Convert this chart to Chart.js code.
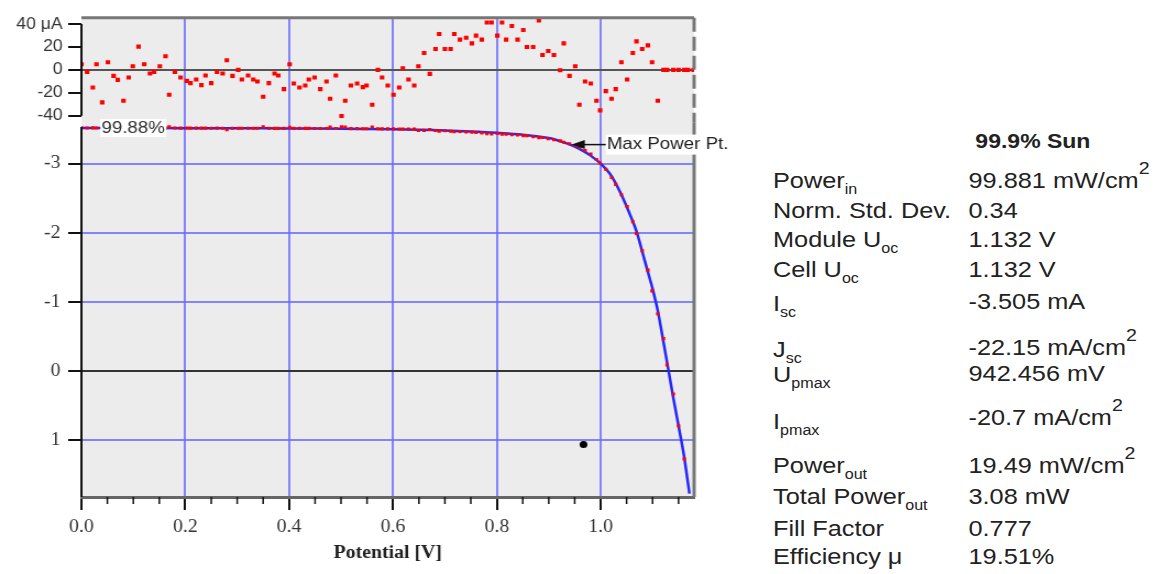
<!DOCTYPE html>
<html>
<head>
<meta charset="utf-8">
<script src="https://cdn.jsdelivr.net/npm/chart.js@4"></script>
<style>
  html, body { margin: 0; padding: 0; background: #fff; }
  body { width: 1157px; height: 574px; position: relative; overflow: hidden;
         font-family: "Liberation Sans", Arial, sans-serif; color: #222; }
  /* the reference is stretched a little horizontally, so both parts are too */
  #plot { position: absolute; left: 0; top: 0; width: 680px; height: 574px;
          transform: scaleX(1.1); transform-origin: 0 0; }
  #stats { position: absolute; left: 773px; top: 0; width: 340px; height: 574px;
           transform: scaleX(1.15); transform-origin: 0 0; font-size: 22px; }
  #stats div { position: absolute; white-space: nowrap; line-height: 22px; }
  #stats .title { font-weight: bold; font-size: 20px; transform: translateX(-50%); }
  .sub { font-size: 14px; position: relative; top: 6px; }
  .sup { font-size: 17px; position: relative; top: -14px; }
</style>
</head>
<body>
<div id="plot"><canvas id="ivChart" width="680" height="574"></canvas></div>
<div id="stats"></div>
<script>
// measured voltages [V]
const measV = [
  0.000, 0.011, 0.022, 0.029, 0.040, 0.051, 0.062, 0.070, 0.081, 0.091,
  0.099, 0.110, 0.121, 0.132, 0.140, 0.151, 0.162, 0.169, 0.180, 0.191,
  0.203, 0.210, 0.221, 0.231, 0.239, 0.250, 0.261, 0.272, 0.280, 0.291,
  0.302, 0.309, 0.321, 0.331, 0.339, 0.350, 0.361, 0.372, 0.379, 0.390,
  0.401, 0.409, 0.420, 0.431, 0.438, 0.449, 0.460, 0.472, 0.479, 0.490,
  0.501, 0.508, 0.519, 0.531, 0.542, 0.549, 0.560, 0.571, 0.579, 0.590,
  0.601, 0.612, 0.619, 0.630, 0.641, 0.649, 0.660, 0.671, 0.682, 0.689,
  0.700, 0.711, 0.718, 0.729, 0.741, 0.752, 0.760, 0.771, 0.781, 0.790,
  0.801, 0.810, 0.818, 0.829, 0.840, 0.851, 0.858, 0.870, 0.881, 0.888,
  0.899, 0.910, 0.922, 0.929, 0.940, 0.951, 0.959, 0.970, 0.981, 0.992,
  0.999, 1.010, 1.021, 1.029, 1.040, 1.051, 1.062, 1.069, 1.080, 1.091,
  1.099, 1.110, 1.121, 1.128, 1.140, 1.150, 1.161, 1.168, 1.179
];

// fit residuals [µA]
const residUA = [
  4.9, -1.7, -15.4, 4.9, -28.4, 6.7, -5.2, -8.7, -27, -6.7,
  3.2, 20.3, 4.9, -3.2, -1.7, 3.2, 11.9, -21.7, -1.7, -6.7,
  -9.6, -11.6, -8.4, -13.3, -4.9, -11.6, -1.7, -3.2, 8.4, -5.2,
  0, -8.4, -4.9, -8.4, -10.1, -23.5, -11.6, -3.2, -4.9, -16.8,
  4.9, -11.9, -15.4, -13.6, -8.4, -6.7, -16.8, -10.1, -25.2, -4.9,
  -40.3, -27, -13.6, -11.9, -15.1, -13.6, -30.4, 0, -6.7, -13.6,
  -21.7, -15.4, 1.4, -8.4, -13.6, 3.2, 14.8, -3.5, 18.3, 31.3,
  18.3, 18.3, 31.3, 26.4, 28.1, 23.2, 29.9, 26.4, 41.4, 41.4,
  29.9, 41.4, 26.4, 38.3, 26.4, 34.8, 20, 20, 43.2, 13,
  16.5, 13, -0.3, 23.2, -5.2, 3.2, -30.4, -10.1, -11.9, -27,
  -35.4, -18.6, -25.2, -16.8, 6.7, -8.4, 14.8, 24.9, 18.3, 21.4,
  6.7, -27, 0, 0, 0, 0, 0, 0, 0
];

// measured current [mA]
const measMA = [
  -3.520, -3.516, -3.517, -3.516, -3.515, -3.516, -3.516, -3.515, -3.516, -3.515,
  -3.516, -3.515, -3.515, -3.516, -3.515, -3.515, -3.514, -3.535, -3.515, -3.514,
  -3.515, -3.514, -3.514, -3.514, -3.514, -3.513, -3.514, -3.513, -3.490, -3.513,
  -3.513, -3.512, -3.513, -3.512, -3.512, -3.535, -3.512, -3.511, -3.511, -3.511,
  -3.525, -3.511, -3.510, -3.510, -3.510, -3.509, -3.509, -3.509, -3.530, -3.508,
  -3.532, -3.530, -3.507, -3.507, -3.506, -3.506, -3.528, -3.505, -3.504, -3.504,
  -3.503, -3.502, -3.502, -3.500, -3.499, -3.480, -3.482, -3.494, -3.480, -3.470,
  -3.476, -3.468, -3.462, -3.466, -3.460, -3.456, -3.450, -3.446, -3.432, -3.430,
  -3.436, -3.426, -3.428, -3.418, -3.416, -3.404, -3.406, -3.392, -3.376, -3.378,
  -3.360, -3.346, -3.330, -3.310, -3.288, -3.262, -3.240, -3.190, -3.140, -3.060,
  -3.010, -2.920, -2.800, -2.700, -2.550, -2.380, -2.160, -1.990, -1.740, -1.460,
  -1.160, -0.830, -0.470, -0.090, 0.330, 0.790, 1.270, null, null
];

// fitted curve
const fitV = [0, 0.1, 0.2, 0.3, 0.4, 0.5, 0.6, 0.65, 0.7, 0.75, 0.8, 0.85, 0.9, 0.92,
  0.94, 0.96, 0.98, 1.0, 1.02, 1.04, 1.06, 1.07, 1.08, 1.09, 1.10, 1.11, 1.12,
  1.13, 1.14, 1.15, 1.16, 1.171];
const fitMA = [-3.516, -3.515, -3.514, -3.512, -3.510, -3.505, -3.497, -3.490, -3.480,
  -3.466, -3.447, -3.420, -3.370, -3.330, -3.280, -3.210, -3.120, -3.000, -2.830,
  -2.550, -2.200, -2.000, -1.730, -1.460, -1.190, -0.875, -0.460, -0.040, 0.390,
  0.790, 1.200, 1.770];

// single black marker and max power point
const markV = [0.967];
const markMA = [1.06];
const mppV = 0.942;
const mppMA = -3.276;
const sunLabel = "99.88%";

const residTicks = [-40, -20, 0, 20, 40];
const currentTicks = [-3, -2, -1, 0, 1];

// right-hand summary table
const statTitle = "99.9% Sun";
const statNames = [["Power", "in"], ["Norm. Std. Dev.", ""], ["Module U", "oc"], ["Cell U", "oc"],
  ["I", "sc"], ["J", "sc"], ["U", "pmax"], ["I", "pmax"], ["Power", "out"],
  ["Total Power", "out"], ["Fill Factor", ""], ["Efficiency \u03bc", ""]];
const statValues = [["99.881 mW/cm", "2"], ["0.34", ""], ["1.132 V", ""], ["1.132 V", ""],
  ["-3.505 mA", ""], ["-22.15 mA/cm", "2"], ["942.456 mV", ""], ["-20.7 mA/cm", "2"],
  ["19.49 mW/cm", "2"], ["3.08 mW", ""], ["0.777", ""], ["19.51%", ""]];

// layout of the table (cap-height centres, px)
const nameY = [181, 211, 240, 270, 304, 350, 375, 422, 466, 497, 529, 557];
const valueY = [181, 211, 240, 270, 302, 348, 374, 418, 466, 497, 529, 557];

const stats = document.getElementById("stats");
const addText = (left, centerY, html, cls) => {
  const d = document.createElement("div");
  d.style.left = left + "px";
  d.style.top = (centerY - 11) + "px";
  if (cls) d.className = cls;
  d.innerHTML = html;
  stats.appendChild(d);
};
addText(226, 141, statTitle, "title");
statNames.forEach(([main, sub], i) => {
  addText(0, nameY[i], main + (sub ? `<span class="sub">${sub}</span>` : ""));
  const [val, sup] = statValues[i];
  addText(170, valueY[i], val + (sup ? `<span class="sup">${sup}</span>` : ""));
});

// chart
const GRID_BLUE = "rgba(105,105,255,0.8)";
const CLEAR = "rgba(0,0,0,0)";
const isMajor = (v) => Math.abs(v * 5 - Math.round(v * 5)) < 1e-6;
const pts = (xs, ys) => xs.map((x, i) => ({ x, y: ys[i] }));

const line = (ctx, x1, y1, x2, y2) => {
  ctx.beginPath();
  ctx.moveTo(x1, y1);
  ctx.lineTo(x2, y2);
  ctx.stroke();
};

const framePlugin = {
  id: "frame",
  beforeDraw(chart) {
    const { ctx, chartArea: a } = chart;
    ctx.save();
    ctx.fillStyle = "#ececec";
    ctx.fillRect(a.left, a.top, a.right - a.left, a.bottom - a.top);
    ctx.restore();
  },
  afterDraw(chart) {
    const { ctx, chartArea: a, scales } = chart;
    const xs = scales.x, ys = scales.y, rs = scales.yRes;
    ctx.save();

    // top and right frame
    ctx.strokeStyle = "#777";
    ctx.lineWidth = 3;
    line(ctx, a.left, a.top, a.right, a.top);
    ctx.setLineDash([14, 5]);
    line(ctx, a.right, a.top, a.right, ys.top);
    ctx.setLineDash([]);
    line(ctx, a.right, ys.top, a.right, a.bottom);

    // left axis lines
    ctx.strokeStyle = "#111";
    ctx.lineWidth = 2;
    line(ctx, a.left, rs.getPixelForValue(40), a.left, rs.getPixelForValue(-40));
    line(ctx, a.left, ys.getPixelForValue(-3.53), a.left, a.bottom);

    // minor x ticks
    ctx.lineWidth = 1.5;
    xs.ticks.forEach((t) => {
      if (isMajor(t.value)) return;
      const px = xs.getPixelForValue(t.value);
      line(ctx, px, a.bottom, px, a.bottom + 7);
    });

    ctx.font = '17px "Liberation Sans", Arial, sans-serif';
    ctx.textBaseline = "middle";

    // sun label on the curve
    const lx = xs.getPixelForValue(0.0365);
    const ly = ys.getPixelForValue(-3.516);
    ctx.fillStyle = "#fff";
    ctx.fillRect(lx, ly - 9, 60, 18);
    ctx.fillStyle = "#333";
    ctx.fillText(sunLabel, lx + 1, ly);

    // max power point annotation
    const tx = xs.getPixelForValue(mppV);
    const ty = ys.getPixelForValue(mppMA);
    ctx.fillStyle = "#fff";
    ctx.fillRect(tx + 32, ty - 10, 111, 20);
    ctx.strokeStyle = "#111";
    ctx.lineWidth = 1.5;
    line(ctx, tx + 8, ty, tx + 32, ty);
    ctx.fillStyle = "#111";
    ctx.beginPath();
    ctx.moveTo(tx + 1, ty);
    ctx.lineTo(tx + 13, ty - 4.5);
    ctx.lineTo(tx + 13, ty + 4.5);
    ctx.closePath();
    ctx.fill();
    ctx.fillStyle = "#222";
    ctx.fillText("Max Power Pt.", tx + 33, ty);

    ctx.restore();
  },
};

new Chart(document.getElementById("ivChart"), {
  type: "scatter",
  data: {
    datasets: [
      {
        label: "marker",
        data: pts(markV, markMA),
        yAxisID: "y",
        pointStyle: "circle",
        pointRadius: 3.5,
        pointBackgroundColor: "#000",
        pointBorderWidth: 0,
      },
      {
        label: "residuals",
        data: pts(measV, residUA),
        yAxisID: "yRes",
        pointStyle: "rect",
        pointRadius: 2.9,
        pointBackgroundColor: "#ff0000",
        pointBorderWidth: 0,
      },
      {
        label: "measured",
        data: pts(measV, measMA),
        yAxisID: "y",
        pointStyle: "rect",
        pointRadius: 2.2,
        pointBackgroundColor: "#ff0000",
        pointBorderWidth: 0,
      },
      {
        label: "fit",
        data: pts(fitV, fitMA),
        yAxisID: "y",
        showLine: true,
        borderColor: "#2626ff",
        borderWidth: 2.5,
        pointRadius: 0,
        tension: 0.3,
      },
    ],
  },
  options: {
    responsive: false,
    animation: false,
    layout: { padding: { top: 15, right: 49, bottom: 0, left: 0 } },
    plugins: { legend: { display: false }, tooltip: { enabled: false } },
    scales: {
      x: {
        type: "linear",
        min: 0,
        max: 1.18,
        afterFit: (s) => { s.height = 77; },
        border: { color: "#666", width: 3 },
        grid: {
          color: (c) => (isMajor(c.tick.value) && c.tick.value > 0.01 ? GRID_BLUE : CLEAR),
          tickColor: (c) => (isMajor(c.tick.value) ? "#111" : CLEAR),
          lineWidth: 2,
          tickLength: 13,
        },
        ticks: {
          stepSize: 0.05,
          includeBounds: false,
          autoSkip: false,
          maxRotation: 0,
          padding: 6,
          color: "#333",
          font: { family: '"Liberation Serif", "Times New Roman", serif', size: 18 },
          callback: (v) => (isMajor(v) ? v.toFixed(1) : ""),
        },
        title: {
          display: true,
          text: "Potential [V]",
          color: "#222",
          font: { family: '"Liberation Serif", "Times New Roman", serif', size: 18, weight: "bold" },
          padding: { top: 0, bottom: 10 },
        },
      },
      yRes: {
        type: "linear",
        position: "left",
        stack: "left",
        stackWeight: 105,
        weight: 1,
        min: -45.7,
        max: 45.5,
        afterFit: (s) => { s.width = 74; },
        afterBuildTicks: (s) => { s.ticks = residTicks.map((value) => ({ value })); },
        border: { display: false },
        grid: {
          color: (c) => (c.tick.value === 0 ? "#555" : CLEAR),
          tickColor: "#111",
          lineWidth: 2,
          tickLength: 12,
        },
        ticks: {
          autoSkip: false,
          padding: 5,
          color: "#333",
          font: { family: '"Liberation Sans", Arial, sans-serif', size: 16 },
          callback: (v) => (v === 40 ? "40 \u03bcA" : String(v)),
        },
      },
      y: {
        type: "linear",
        position: "left",
        stack: "left",
        stackWeight: 377,
        weight: 0,
        min: -3.6,
        max: 1.82,
        reverse: true,
        afterFit: (s) => { s.width = 74; },
        afterBuildTicks: (s) => { s.ticks = currentTicks.map((value) => ({ value })); },
        border: { display: false },
        grid: {
          color: (c) => (c.tick.value === 0 ? "#333" : GRID_BLUE),
          tickColor: "#111",
          lineWidth: 2,
          tickLength: 12,
        },
        ticks: {
          autoSkip: false,
          padding: 7,
          color: "#333",
          font: { family: '"Liberation Serif", "Times New Roman", serif', size: 18 },
        },
      },
    },
  },
  plugins: [framePlugin],
});
</script>
</body>
</html>
